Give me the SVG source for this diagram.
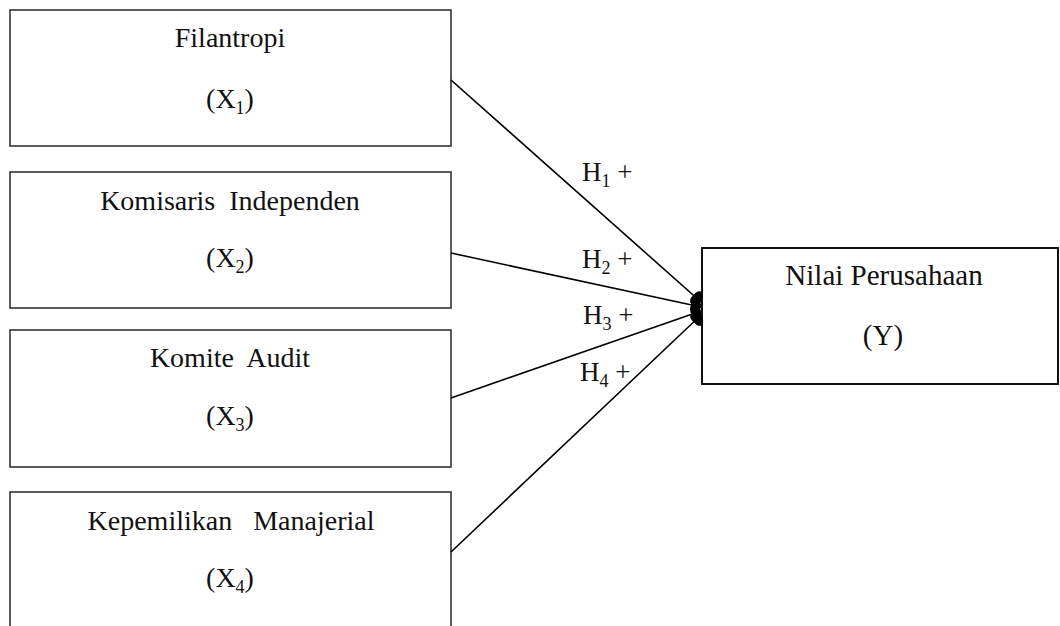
<svg xmlns="http://www.w3.org/2000/svg" width="1060" height="626" viewBox="0 0 1060 626">
  <style>
    .box { fill: #ffffff; stroke: #333333; stroke-width: 1.6; }
    .boxy { fill: #ffffff; stroke: #111111; stroke-width: 2; }
    .t { font-family: "Liberation Serif", "Times New Roman", serif; font-size: 28px; fill: #111111; text-anchor: middle; }
    .ty { font-size: 29px; }
    .h { font-family: "Liberation Serif", "Times New Roman", serif; font-size: 27px; fill: #111111; }
    .sub { font-size: 18px; }
    .conn { stroke: #000000; stroke-width: 1.6; fill: none; marker-end: url(#arrow); }
  </style>
  <defs>
    <marker id="arrow" viewBox="0 0 11 16" refX="10.5" refY="8" markerWidth="11" markerHeight="16" markerUnits="userSpaceOnUse" orient="auto">
      <path d="M0,8 Q0,1 4,0 Q9,2 11,8 Q9,14 4,16 Q0,15 0,8 Z" fill="#000000"/>
    </marker>
  </defs>
  <rect width="1060" height="626" fill="#ffffff"/>

  <g id="x1">
    <rect class="box" x="10" y="10" width="441" height="136"/>
    <text class="t" x="230" y="47">Filantropi</text>
    <text class="t" x="230" y="108">(X<tspan class="sub" dy="6">1</tspan><tspan dy="-6">)</tspan></text>
  </g>
  <g id="x2">
    <rect class="box" x="10" y="172" width="441" height="136"/>
    <text class="t" x="230" y="210" xml:space="preserve">Komisaris  Independen</text>
    <text class="t" x="230" y="267">(X<tspan class="sub" dy="6">2</tspan><tspan dy="-6">)</tspan></text>
  </g>
  <g id="x3">
    <rect class="box" x="10" y="330" width="441" height="137"/>
    <text class="t" x="230" y="367" xml:space="preserve">Komite  Audit</text>
    <text class="t" x="230" y="425">(X<tspan class="sub" dy="6">3</tspan><tspan dy="-6">)</tspan></text>
  </g>
  <g id="x4">
    <rect class="box" x="10" y="492" width="441" height="140"/>
    <text class="t" x="231" y="530" xml:space="preserve">Kepemilikan   Manajerial</text>
    <text class="t" x="230" y="587">(X<tspan class="sub" dy="6">4</tspan><tspan dy="-6">)</tspan></text>
  </g>
  <g id="y">
    <rect class="boxy" x="702" y="248" width="356" height="136"/>
    <text class="t ty" x="884" y="285">Nilai Perusahaan</text>
    <text class="t ty" x="883" y="345">(Y)</text>
  </g>

  <g id="connectors">
    <line class="conn" x1="451" y1="80" x2="701" y2="302"/>
    <line class="conn" x1="451" y1="253" x2="701" y2="307"/>
    <line class="conn" x1="451" y1="398" x2="701" y2="311"/>
    <line class="conn" x1="451" y1="552" x2="701" y2="315"/>
  </g>

  <g id="labels">
    <text class="h" x="582" y="181">H<tspan class="sub" dy="6">1</tspan><tspan dy="-6"> +</tspan></text>
    <text class="h" x="582" y="268">H<tspan class="sub" dy="6">2</tspan><tspan dy="-6"> +</tspan></text>
    <text class="h" x="583" y="324">H<tspan class="sub" dy="6">3</tspan><tspan dy="-6"> +</tspan></text>
    <text class="h" x="580" y="381">H<tspan class="sub" dy="6">4</tspan><tspan dy="-6"> +</tspan></text>
  </g>
</svg>
